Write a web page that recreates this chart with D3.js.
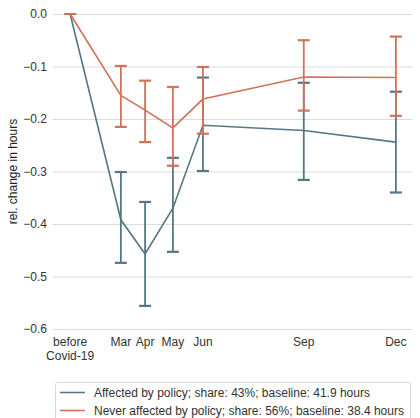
<!DOCTYPE html>
<html><head><meta charset="utf-8">
<script src="https://cdn.jsdelivr.net/npm/d3@7"></script>
<style>body{margin:0;background:#fff;}svg{display:block;font-family:"Liberation Sans",Arial,sans-serif;}</style>
</head><body>
<svg id="c" width="420" height="418"></svg>
<script>
// x positions in months of 2020
const periods = ["before\nCovid-19", "Mar", "Apr", "May", "Jun", "Sep", "Dec"];
const periodX = [1.89, 3.46, 4.21, 5.07, 6.0, 9.12, 11.97];

const affected = [0, -0.392, -0.457, -0.370, -0.212, -0.222, -0.244];
const affectedLo = [0, -0.474, -0.556, -0.453, -0.299, -0.316, -0.340];
const affectedHi = [0, -0.301, -0.358, -0.274, -0.121, -0.131, -0.148];

const never = [0, -0.155, -0.183, -0.217, -0.162, -0.120, -0.121];
const neverLo = [0, -0.215, -0.244, -0.289, -0.228, -0.184, -0.194];
const neverHi = [0, -0.099, -0.127, -0.139, -0.101, -0.050, -0.043];

const yTicks = [0, -0.1, -0.2, -0.3, -0.4, -0.5, -0.6];
const seriesNames = ["Affected by policy; share: 43%; baseline: 41.9 hours",
                     "Never affected by policy; share: 56%; baseline: 38.4 hours"];
const colors = ["#557785", "#d0735a"];

const svg = d3.select("#c");
const x = d3.scaleLinear().domain([1.36, 12.5]).range([53, 413]);
const y = d3.scaleLinear().domain([-0.6, 0]).range([329, 14]);

// grid
const yAxis = d3.axisLeft(y).tickValues(yTicks).tickSize(-(413-53)).tickPadding(6)
  .tickFormat(d => d3.format(".1f")(d).replace("-", "\u2212"));
const gy = svg.append("g").attr("transform", "translate(53,0)").call(yAxis);
gy.select(".domain").remove();
gy.selectAll(".tick line").attr("stroke", "#dcdcdc").attr("stroke-width", 1);
gy.selectAll(".tick text").attr("fill", "#333").attr("font-size", 12);

// x labels
const xl = svg.append("g");
periods.forEach((p, i) => {
  const lines = p.split("\n");
  const t = xl.append("text").attr("x", x(periodX[i])).attr("y", 346)
    .attr("text-anchor", "middle").attr("font-size", 12).attr("fill", "#333");
  lines.forEach((l, j) => t.append("tspan").attr("x", x(periodX[i])).attr("dy", j === 0 ? 0 : 13.5).text(l));
});

// y label
svg.append("text").attr("transform", `translate(17,${(14+329)/2}) rotate(-90)`)
  .attr("text-anchor", "middle").attr("font-size", 12).attr("fill", "#222")
  .text("rel. change in hours");

const series = [
  {v: affected, lo: affectedLo, hi: affectedHi, c: colors[0]},
  {v: never, lo: neverLo, hi: neverHi, c: colors[1]}
];
const line = d3.line().x((d, i) => x(periodX[i])).y(d => y(d));
series.forEach(s => {
  const g = svg.append("g");
  g.append("path").datum(s.v).attr("d", line).attr("fill", "none")
    .attr("stroke", s.c).attr("stroke-width", 1.6);
  s.v.forEach((v, i) => {
    const cx = x(periodX[i]);
    if (i === 0) {
      g.append("line").attr("x1", cx-6).attr("x2", cx+6).attr("y1", y(v)).attr("y2", y(v))
        .attr("stroke", s.c).attr("stroke-width", 1.8);
      return;
    }
    g.append("line").attr("x1", cx).attr("x2", cx).attr("y1", y(s.lo[i])).attr("y2", y(s.hi[i]))
      .attr("stroke", s.c).attr("stroke-width", 1.8);
    [s.lo[i], s.hi[i]].forEach(e => g.append("line").attr("x1", cx-6).attr("x2", cx+6)
      .attr("y1", y(e)).attr("y2", y(e)).attr("stroke", s.c).attr("stroke-width", 2.2));
  });
});

// legend
const lg = svg.append("g");
lg.append("rect").attr("x", 55.5).attr("y", 382.5).attr("width", 355).attr("height", 50)
  .attr("rx", 2).attr("fill", "#fff").attr("stroke", "#d8d8d8");
seriesNames.forEach((n, i) => {
  const yy = 392.5 + i * 18;
  lg.append("line").attr("x1", 60).attr("x2", 85).attr("y1", yy).attr("y2", yy)
    .attr("stroke", colors[i]).attr("stroke-width", 1.6);
  lg.append("text").attr("x", 94).attr("y", yy + 4.3).attr("font-size", 12).attr("fill", "#333").text(n);
});
</script>
</body></html>
